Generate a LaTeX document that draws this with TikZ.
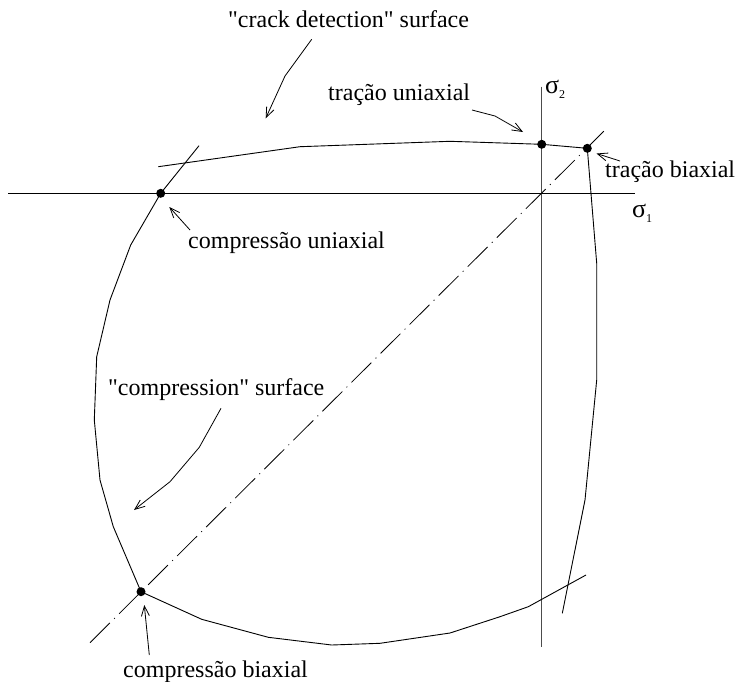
\documentclass[tikz,border=0pt]{standalone}
\usepackage{fontspec}
\setmainfont{Liberation Serif}[Ligatures=TeXOff]
\usetikzlibrary{arrows.meta}
\begin{document}
\begin{tikzpicture}[x=1pt,y=-1pt,
  curve/.style={line width=0.9pt, line join=round},
  axisline/.style={line width=1pt},
  vaxis/.style={line width=1.3pt, draw=black!70},
  lbl/.style={inner sep=0pt, anchor=base west, font=\fontsize{24}{29}\selectfont},
  dotpt/.style={circle, fill=black, inner sep=0pt, minimum size=9pt},
  ptr/.style={line width=0.8pt, line join=round, -{Straight Barb[length=10pt,width=8pt]}},
  diag/.style={line width=0.8pt, dash pattern=on 28pt off 6pt on 1pt off 6pt}]
\useasboundingbox (0,0) rectangle (739,681);
% axes
\coordinate (hL) at (8,193.3);
\coordinate (hR) at (635,193.3);
\coordinate (vT) at (541.7,86.7);
\coordinate (vB) at (541.7,646.7);
\coordinate (dA) at (90,642.7);
\coordinate (dB) at (605,130);
\draw[axisline] (hL) -- (hR);
\draw[vaxis] (vT) -- (vB);
\draw[diag] (dA) -- (dB);
% points
\node[dotpt] (cu) at (160.7,193.3) {};
\node[dotpt] (tu) at (541.7,144.3) {};
\node[dotpt] (tb) at (587.3,148.3) {};
\node[dotpt] (cb) at (141,591.7) {};
% crack detection surface
\coordinate (c0) at (158.3,166.7);
\draw[curve] (c0) -- (300,146.7) -- (450,141.3) -- (tu.center) -- (tb.center)
  -- (596.7,263.3) -- (596.7,380) -- (585,500) -- (562.3,613.3);
% compression surface
\coordinate (l0) at (199,145.7);
\coordinate (b9) at (586,575);
\draw[curve] (l0) -- (cu.center) -- (130.7,245) -- (110,300) -- (96.7,356.7)
  -- (94.3,420) -- (100,480) -- (113.3,526.7) -- (cb.center)
  -- (201.7,619.3) -- (268.3,637.3) -- (331.7,645) -- (380,643.3)
  -- (450,633) -- (500,616.7) -- (528.3,606.7) -- (b9);
% labels
\node[lbl] (tcrack) at (228,27) {"crack detection" surface};
\node[lbl] (ttu) at (328,100) {tração uniaxial};
\node[lbl] (ttb) at (605,177) {tração biaxial};
\node[lbl] (tcu) at (188,248) {compressão uniaxial};
\node[lbl] (tcs) at (108,395) {"compression" surface};
\node[lbl] (tcb) at (123,677) {compressão biaxial};
\node[lbl] (s2) at (545,93) {\fontsize{26}{26}\selectfont σ\raisebox{-5pt}{\fontsize{12}{12}\selectfont 2}};
\node[lbl] (s1) at (632,217) {\fontsize{26}{26}\selectfont σ\raisebox{-5pt}{\fontsize{12}{12}\selectfont 1}};
% pointers
\coordinate (a1s) at (311.7,39.3);
\coordinate (a1t) at (265.7,118.3);
\draw[ptr] (a1s) -- (285,76) -- (a1t);
\coordinate (a2s) at (472,110);
\coordinate (a2t) at (523,132);
\draw[ptr] (a2s) -- (495,116) -- (a2t);
\coordinate (a3s) at (620,161);
\coordinate (a3t) at (596.5,153.5);
\draw[ptr] (a3s) -- (a3t);
\coordinate (a4s) at (190,230);
\coordinate (a4t) at (169.3,207);
\draw[ptr] (a4s) -- (a4t);
\coordinate (a5s) at (221,408.3);
\coordinate (a5t) at (134,510);
\draw[ptr] (a5s) -- (199.3,447.3) -- (170,481.7) -- (a5t);
\coordinate (a6s) at (149.3,655);
\coordinate (a6t) at (144.3,605);
\draw[ptr] (a6s) -- (a6t);
\end{tikzpicture}
\end{document}
